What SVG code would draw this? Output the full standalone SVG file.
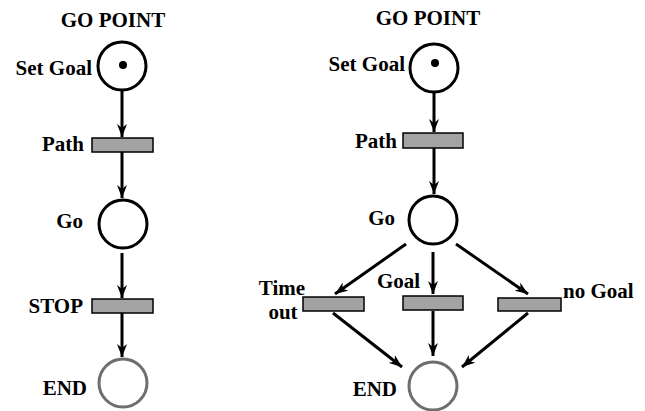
<svg xmlns="http://www.w3.org/2000/svg" width="645" height="411" viewBox="0 0 645 411">
  <style>
    text { font-family: 'Liberation Serif', 'Times New Roman', serif; font-weight: bold; font-size: 21px; fill: #000; }
    .place { fill: #fff; stroke: #000; stroke-width: 3; }
    .end { fill: #fff; stroke: #6e6e6e; stroke-width: 3; }
    .token { fill: #000; }
    .trans { fill: #a3a3a3; stroke: #000; stroke-width: 1.5; }
    .arc { stroke: #000; stroke-width: 3; fill: none; marker-end: url(#arrow); }
  </style>
  <defs>
    <marker id="arrow" markerUnits="userSpaceOnUse" markerWidth="14" markerHeight="10" refX="13" refY="5" orient="auto">
      <path d="M0,0 L13,5 L0,10 L4,5 Z" fill="#000"/>
    </marker>
  </defs>

  <!-- left net: sequential -->
  <text x="113" y="27" text-anchor="middle">GO POINT</text>
  <g id="L-setgoal">
    <circle class="place" cx="122" cy="66" r="24"/>
    <circle class="token" cx="123" cy="65" r="4"/>
    <text x="92" y="75" text-anchor="end">Set Goal</text>
  </g>
  <g id="L-path">
    <rect class="trans" x="92" y="138" width="61" height="14"/>
    <text x="84" y="151" text-anchor="end">Path</text>
  </g>
  <g id="L-go">
    <circle class="place" cx="123" cy="224" r="24"/>
    <text x="83" y="228" text-anchor="end">Go</text>
  </g>
  <g id="L-stop">
    <rect class="trans" x="92" y="299" width="61" height="14"/>
    <text x="83" y="313" text-anchor="end">STOP</text>
  </g>
  <g id="L-end">
    <circle class="end" cx="123" cy="383" r="24"/>
    <text x="87" y="395" text-anchor="end">END</text>
  </g>

  <!-- right net: branching -->
  <text x="428" y="25" text-anchor="middle">GO POINT</text>
  <g id="R-setgoal">
    <circle class="place" cx="434" cy="68" r="24"/>
    <circle class="token" cx="435" cy="63" r="4"/>
    <text x="405" y="71" text-anchor="end">Set Goal</text>
  </g>
  <g id="R-path">
    <rect class="trans" x="403" y="133" width="60" height="15"/>
    <text x="397" y="148" text-anchor="end">Path</text>
  </g>
  <g id="R-go">
    <circle class="place" cx="433" cy="220" r="24"/>
    <text x="395" y="225" text-anchor="end">Go</text>
  </g>
  <g id="R-timeout">
    <rect class="trans" x="303" y="297" width="61" height="14"/>
    <text x="282" y="295" text-anchor="middle">Time</text>
    <text x="283" y="319" text-anchor="middle">out</text>
  </g>
  <g id="R-goal">
    <rect class="trans" x="403" y="296" width="60" height="14"/>
    <text x="377" y="288">Goal</text>
  </g>
  <g id="R-nogoal">
    <rect class="trans" x="498" y="298" width="63" height="13"/>
    <text x="563" y="298">no Goal</text>
  </g>
  <g id="R-end">
    <circle class="end" cx="433" cy="386" r="24"/>
    <text x="397" y="396" text-anchor="end">END</text>
  </g>

  <g id="arcs">
    <line class="arc" x1="122" y1="91" x2="122" y2="137"/>
    <line class="arc" x1="122" y1="152" x2="122" y2="198"/>
    <line class="arc" x1="122" y1="253" x2="122" y2="298"/>
    <line class="arc" x1="122" y1="313" x2="122" y2="357"/>

    <line class="arc" x1="434" y1="93" x2="434" y2="132"/>
    <line class="arc" x1="434" y1="148" x2="434" y2="194"/>
    <line class="arc" x1="406" y1="244" x2="335" y2="294"/>
    <line class="arc" x1="433" y1="252" x2="433" y2="294"/>
    <line class="arc" x1="456" y1="244" x2="528" y2="294"/>
    <line class="arc" x1="333" y1="313" x2="402" y2="367"/>
    <line class="arc" x1="433" y1="311" x2="433" y2="356"/>
    <line class="arc" x1="528" y1="313" x2="462" y2="367"/>
  </g>
</svg>
